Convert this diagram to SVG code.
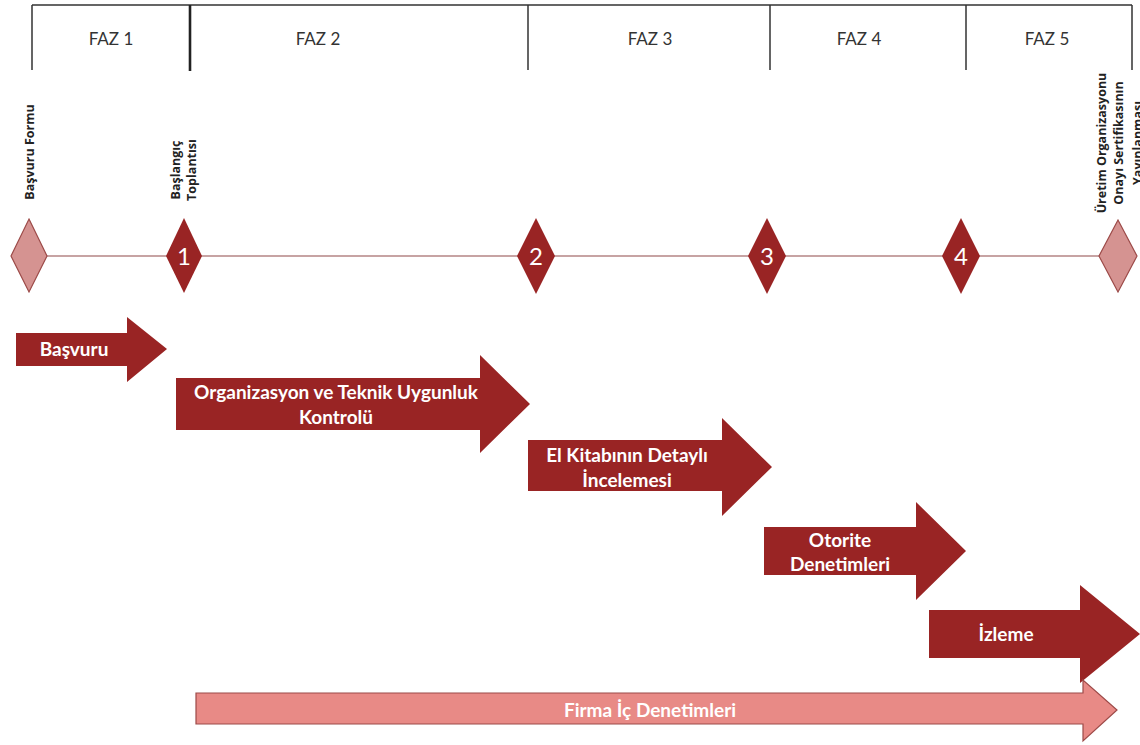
<svg xmlns="http://www.w3.org/2000/svg" width="1140" height="745" viewBox="0 0 1140 745">
  <style>
    .frame { stroke: #333333; stroke-width: 1.5; fill: none; }
    .phase { font-family: Lato, "Open Sans", sans-serif; font-size: 17px; fill: #333333; text-anchor: middle; }
    .timeline { stroke: #b58585; stroke-width: 1.5; }
    .ms-pale { fill: #d59391; stroke: #9c4a48; stroke-width: 1.2; }
    .ms-dark { fill: #992424; }
    .ms-num { font-family: Lato, "Open Sans", sans-serif; font-size: 24px; fill: #ffffff; text-anchor: middle; }
    .ms-label { font-family: "Open Sans", Lato, sans-serif; font-weight: bold; font-size: 12.5px; fill: #222222; text-anchor: middle; }
    .step { fill: #992424; }
    .step-pale { fill: #e88a86; stroke: #9c4a48; stroke-width: 1.2; }
    .step-text { font-family: Lato, "Open Sans", sans-serif; font-weight: bold; font-size: 19px; fill: #ffffff; text-anchor: middle; }
  </style>

  <rect width="1140" height="745" fill="#ffffff"/>

  <!-- phase header -->
  <g id="phases">
    <path class="frame" d="M32 5 H1132 M32 5 V70 M528 5 V70 M770 5 V70 M966 5 V70 M1132 5 V70"/>
    <path d="M190 5 V71" stroke="#222222" stroke-width="2.6"/>
    <text class="phase" x="111" y="45">FAZ 1</text>
    <text class="phase" x="318" y="45">FAZ 2</text>
    <text class="phase" x="650" y="45">FAZ 3</text>
    <text class="phase" x="859" y="45">FAZ 4</text>
    <text class="phase" x="1047" y="45">FAZ 5</text>
  </g>

  <!-- timeline axis -->
  <g id="connectors">
    <line class="timeline" x1="40" y1="256" x2="1108" y2="256"/>
  </g>

  <!-- milestones -->
  <g id="ms-start">
    <polygon class="ms-pale" points="29,219 47,256 29,292 11,256"/>
    <text class="ms-label" transform="translate(34 152) rotate(-90)">Başvuru Formu</text>
  </g>
  <g id="ms-1">
    <polygon class="ms-dark" points="184,218 202,256 184,293 166,256"/>
    <text class="ms-num" x="184" y="265">1</text>
    <text class="ms-label" transform="translate(180 170) rotate(-90)">Başlangıç</text>
    <text class="ms-label" transform="translate(196 170) rotate(-90)">Toplantısı</text>
  </g>
  <g id="ms-2">
    <polygon class="ms-dark" points="536,218 555,256 536,294 517,256"/>
    <text class="ms-num" x="536" y="265">2</text>
  </g>
  <g id="ms-3">
    <polygon class="ms-dark" points="767,218 786,256 767,294 748,256"/>
    <text class="ms-num" x="767" y="265">3</text>
  </g>
  <g id="ms-4">
    <polygon class="ms-dark" points="961,218 980,256 961,294 942,256"/>
    <text class="ms-num" x="961" y="265">4</text>
  </g>
  <g id="ms-end">
    <polygon class="ms-pale" points="1118,220 1137,256 1118,292 1099,256"/>
    <text class="ms-label" transform="translate(1106 143) rotate(-90)">Üretim Organizasyonu</text>
    <text class="ms-label" transform="translate(1123 143) rotate(-90)">Onayı Sertifikasının</text>
    <text class="ms-label" transform="translate(1142 143) rotate(-90)">Yayınlanması</text>
  </g>

  <!-- process steps -->
  <g id="step-basvuru">
    <polygon class="step" points="16,333 127,333 127,317 167,349 127,382 127,366 16,366"/>
    <text class="step-text" x="74" y="356">Başvuru</text>
  </g>
  <g id="step-organizasyon">
    <polygon class="step" points="176,378 480,378 480,355 530,404 480,453 480,430 176,430"/>
    <text class="step-text" x="336" y="399">Organizasyon ve Teknik Uygunluk</text>
    <text class="step-text" x="336" y="424">Kontrolü</text>
  </g>
  <g id="step-elkitabi">
    <polygon class="step" points="528,440 722,440 722,418 772,467 722,516 722,491 528,491"/>
    <text class="step-text" x="627" y="462">El Kitabının Detaylı</text>
    <text class="step-text" x="627" y="487">İncelemesi</text>
  </g>
  <g id="step-otorite">
    <polygon class="step" points="764,527 916,527 916,502 966,551 916,600 916,575 764,575"/>
    <text class="step-text" x="840" y="547">Otorite</text>
    <text class="step-text" x="840" y="571">Denetimleri</text>
  </g>
  <g id="step-izleme">
    <polygon class="step" points="929,610 1080,610 1080,585 1140,634 1080,683 1080,658 929,658"/>
    <text class="step-text" x="1006" y="641">İzleme</text>
  </g>
  <g id="step-firma">
    <polygon class="step-pale" points="196,693 1083,693 1083,680 1117,710 1083,741 1083,724 196,724"/>
    <text class="step-text" x="650" y="717">Firma İç Denetimleri</text>
  </g>
</svg>
